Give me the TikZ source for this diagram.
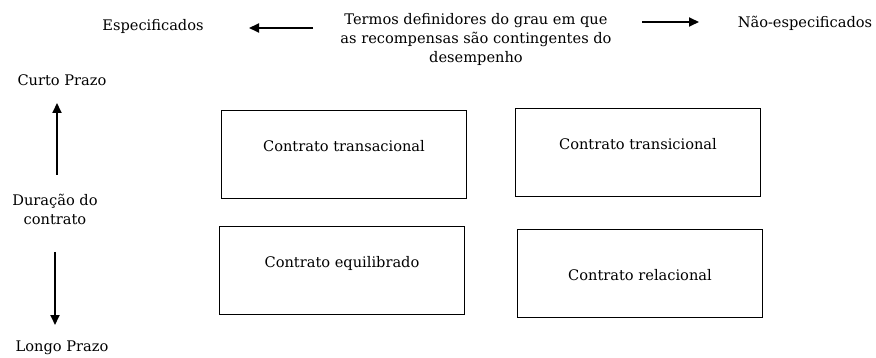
\documentclass[tikz,border=0pt]{standalone}
\usepackage{fontspec}
\setmainfont{DejaVu Serif}
\usetikzlibrary{arrows.meta, positioning}
\tikzset{
  contractbox/.style={
    draw, line width=0.9pt,
    minimum width=245pt, minimum height=88pt,
    font=\fontsize{14.6}{18}\selectfont, fill=white
  },
  textup/.style={text height=11pt, text depth=15pt},
  textdown/.style={text height=19pt, text depth=3pt},
  axislabel/.style={font=\fontsize{14.6}{19}\selectfont, align=center, inner sep=0pt},
  axisarrow/.style={-{Triangle[length=10pt,width=9pt]}, line width=1.8pt},
}

\begin{document}
\begin{tikzpicture}[x=1pt, y=-1pt]
  \useasboundingbox (0,0) rectangle (876,358);

  % Horizontal axis
  \node[axislabel] (spec) at (153,26) {Especificados};
  \node[axislabel] (terms) at (476,39) {Termos definidores do grau em que\\as recompensas são contingentes do\\desempenho};
  \node[axislabel] (nonspec) at (805,23) {Não-especificados};
  \coordinate (specL) at (249,28);
  \coordinate (specR) at (313,28);
  \coordinate (nonspecL) at (642,22);
  \coordinate (nonspecR) at (699,22);
  \draw[axisarrow] (specR) -- (specL);
  \draw[axisarrow] (nonspecL) -- (nonspecR);

  % Vertical axis
  \node[axislabel] (short) at (62,80) {Curto Prazo};
  \node[axislabel] (duration) at (55,209) {Duração do\\contrato};
  \node[axislabel] (long) at (62,348) {Longo Prazo};
  \coordinate (shortB) at (57,175);
  \coordinate (shortT) at (57,103);
  \coordinate (longT) at (55,252);
  \coordinate (longB) at (55,325);
  \draw[axisarrow] (shortB) -- (shortT);
  \draw[axisarrow] (longT) -- (longB);

  % Contract types
  \node[contractbox, textup] (transac) at (344,154) {Contrato transacional};
  \node[contractbox, textup] (transic) at (638,152) {Contrato transicional};
  \node[contractbox, textup] (balanced) at (342,270) {Contrato equilibrado};
  \node[contractbox, textdown] (relational) at (640,273) {Contrato relacional};
\end{tikzpicture}
\end{document}
